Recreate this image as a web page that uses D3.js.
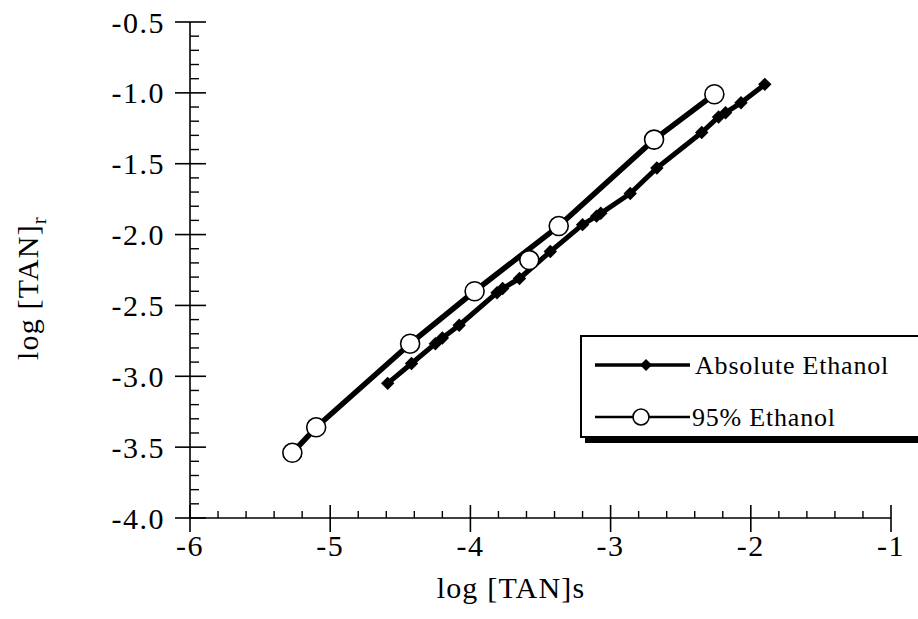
<!DOCTYPE html>
<html><head><meta charset="utf-8">
<script src="https://cdn.jsdelivr.net/npm/d3@7"></script>
<style>body{margin:0;background:#fff;} svg{display:block;} text{font-family:"Liberation Serif","Times New Roman",serif;fill:#000;}</style>
</head><body>
<svg id="c" width="918" height="619"></svg>
<script>
// Data
const absX = [-4.59,-4.42,-4.25,-4.20,-4.08,-3.81,-3.77,-3.65,-3.43,-3.20,-3.10,-3.07,-2.86,-2.67,-2.35,-2.23,-2.18,-2.07,-1.90];
const absY = [-3.05,-2.91,-2.77,-2.73,-2.64,-2.41,-2.38,-2.31,-2.12,-1.93,-1.87,-1.85,-1.71,-1.53,-1.28,-1.17,-1.14,-1.07,-0.94];
const e95X = [-5.27,-5.10,-4.43,-3.97,-3.58,-3.37,-2.69,-2.26];
const e95Y = [-3.54,-3.36,-2.77,-2.40,-2.18,-1.94,-1.33,-1.01];
// whether each 95% point is joined by the drawn line (the reference line passes over the 5th point)
const e95Joined = [true,true,true,true,false,true,true,true];
const xTicks = [-6,-5,-4,-3,-2,-1];
const yTicks = [-4.0,-3.5,-3.0,-2.5,-2.0,-1.5,-1.0,-0.5];
const seriesNames = ["Absolute Ethanol","95% Ethanol"];
const xTitle = "log [TAN]s";
const yTitle = "log [TAN]";
const yTitleSub = "r";

const svg = d3.select("#c");
const x = d3.scaleLinear().domain([-6,-1]).range([190,891]);
const y = d3.scaleLinear().domain([-4,-0.5]).range([518,22]);

const g = svg.append("g");
// axes lines
g.append("line").attr("x1",x(-6)).attr("x2",x(-1)).attr("y1",y(-4)).attr("y2",y(-4)).attr("stroke","#000").attr("stroke-width",1.6);
g.append("line").attr("x1",x(-6)).attr("x2",x(-6)).attr("y1",y(-4)).attr("y2",y(-0.5)).attr("stroke","#000").attr("stroke-width",1.6);

// y minor ticks
const yMinor = d3.range(-40,-4).map(d=>d/10).filter(d=>Math.abs(d*2-Math.round(d*2))>1e-6);
g.selectAll(".ym").data(yMinor).enter().append("line")
  .attr("x1",x(-6)).attr("x2",x(-6)+9).attr("y1",d=>y(d)).attr("y2",d=>y(d)).attr("stroke","#000").attr("stroke-width",1.4);
// y major ticks
g.selectAll(".yM").data(yTicks).enter().append("line")
  .attr("x1",x(-6)-15).attr("x2",x(-6)+16).attr("y1",d=>y(d)).attr("y2",d=>y(d)).attr("stroke","#000").attr("stroke-width",1.6);
g.selectAll(".yl").data(yTicks).enter().append("text")
  .attr("x",165).attr("y",d=>y(d)).attr("dy","0.35em").attr("text-anchor","end")
  .attr("font-size",30).attr("letter-spacing","1.5px").text(d=>d3.format(".1f")(d).replace("−","-"));

// x minor ticks
const xMinor = d3.range(-30,-5).map(d=>d/5).filter(d=>Math.abs(d-Math.round(d))>1e-6);
g.selectAll(".xm").data(xMinor).enter().append("line")
  .attr("x1",d=>x(d)).attr("x2",d=>x(d)).attr("y1",y(-4)).attr("y2",y(-4)-7).attr("stroke","#000").attr("stroke-width",1.4);
g.selectAll(".xM").data(xTicks).enter().append("line")
  .attr("x1",d=>x(d)).attr("x2",d=>x(d)).attr("y1",y(-4)-13).attr("y2",y(-4)+14).attr("stroke","#000").attr("stroke-width",1.6);
g.selectAll(".xl").data(xTicks).enter().append("text")
  .attr("x",d=>x(d)).attr("y",556).attr("text-anchor","middle")
  .attr("font-size",30).attr("letter-spacing","1.5px").text(d=>String(d));

// titles
g.append("text").attr("x",511).attr("y",598).attr("text-anchor","middle").attr("font-size",30).attr("letter-spacing","1.2px").text(xTitle);
const yt = g.append("text").attr("transform","translate(38,288) rotate(-90)").attr("text-anchor","middle").attr("font-size",30).attr("letter-spacing","1.2px");
yt.append("tspan").text(yTitle);
yt.append("tspan").attr("dy",8).attr("font-size",21).text(yTitleSub);

// series
const line = d3.line().x(d=>x(d[0])).y(d=>y(d[1]));
const absData = absX.map((v,i)=>[v,absY[i]]);
const e95Data = e95X.map((v,i)=>[v,e95Y[i]]);
g.append("path").datum(absData).attr("d",line).attr("fill","none").attr("stroke","#000").attr("stroke-width",5).attr("stroke-linejoin","round");
g.append("path").datum(e95Data.filter((d,i)=>e95Joined[i])).attr("d",line).attr("fill","none").attr("stroke","#000").attr("stroke-width",5.5).attr("stroke-linejoin","round");
const diamond = d3.symbol().type(d3.symbolSquare).size(90);
g.selectAll(".dm").data(absData).enter().append("path")
  .attr("d",diamond).attr("transform",d=>`translate(${x(d[0])},${y(d[1])}) rotate(45)`).attr("fill","#000");
g.selectAll(".ci").data(e95Data).enter().append("circle")
  .attr("cx",d=>x(d[0])).attr("cy",d=>y(d[1])).attr("r",9.5).attr("fill","#fff").attr("stroke","#000").attr("stroke-width",1.6);

// legend
const lg = svg.append("g");
lg.append("rect").attr("x",585).attr("y",342).attr("width",400).attr("height",101).attr("fill","#000");
lg.append("rect").attr("x",581).attr("y",336).attr("width",400).attr("height",101).attr("fill","#fff").attr("stroke","#000").attr("stroke-width",2);
const ly = [365,417];
lg.selectAll(".ll").data(ly).enter().append("line")
  .attr("x1",595).attr("x2",690).attr("y1",d=>d).attr("y2",d=>d).attr("stroke","#000").attr("stroke-width",(d,i)=>i===0?3.5:2.5);
lg.append("path").attr("d",d3.symbol().type(d3.symbolSquare).size(72)).attr("transform",`translate(646,${ly[0]}) rotate(45)`).attr("fill","#000");
lg.append("circle").attr("cx",641).attr("cy",ly[1]).attr("r",8).attr("fill","#fff").attr("stroke","#000").attr("stroke-width",1.6);
lg.selectAll(".lt").data(seriesNames).enter().append("text")
  .attr("x",(d,i)=>i===0?695:692).attr("y",(d,i)=>ly[i]).attr("dy","0.35em").attr("font-size",26).attr("letter-spacing","0.8px").text(d=>d);
</script>
</body></html>
